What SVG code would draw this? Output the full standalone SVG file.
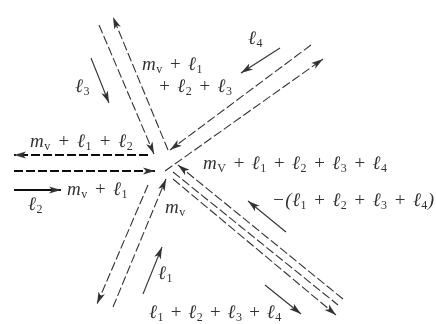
<svg xmlns="http://www.w3.org/2000/svg" width="436" height="324" viewBox="0 0 436 324">
<style>
.c{fill:none;stroke:#333;stroke-width:1.1}
.d{stroke-dasharray:9 3}
.h{stroke:#111;stroke-width:2}
.t{font-family:"Liberation Serif","DejaVu Serif",serif;font-style:italic;font-size:19px;fill:#333;letter-spacing:.5px}
.s{font-size:12px;font-style:normal}
</style>
<defs>
<marker id="a" markerUnits="userSpaceOnUse" markerWidth="14" markerHeight="10" refX="12" refY="5" orient="auto"><path d="M0 1.5L12 5L0 8.5L3 5Z" fill="#333"/></marker>
<filter id="b" x="-5%" y="-5%" width="110%" height="110%"><feGaussianBlur stdDeviation="0.7"/></filter>
</defs>
<rect width="436" height="324" fill="#fff"/>
<g filter="url(#b)">
<g id="connectors">
<path class="c d" d="M99 25L154 154" marker-end="url(#a)"/>
<path class="c d" d="M168 150L113 17" marker-end="url(#a)"/>
<path class="c" d="M91 58L109 103" marker-end="url(#a)"/>
<path class="c d h" d="M148 155L14 155" marker-end="url(#a)"/>
<path class="c d h" d="M14 171L155 171" marker-end="url(#a)"/>
<path class="c h" d="M14 190L61 190" marker-end="url(#a)"/>
<path class="c d" d="M148 185L97 304" marker-end="url(#a)"/>
<path class="c d" d="M113 307L166 179" marker-end="url(#a)"/>
<path class="c" d="M143 294L162 247" marker-end="url(#a)"/>
<path class="c d" d="M311 45L170 150" marker-end="url(#a)"/>
<path class="c d" d="M165 171L323 59" marker-end="url(#a)"/>
<path class="c" d="M280 48L241 73" marker-end="url(#a)"/>
<path class="c d" d="M343 299L178 165" marker-end="url(#a)"/>
<path class="c d" d="M173 172L338 305"/>
<path class="c d" d="M173 179L336 315" marker-end="url(#a)"/>
<path class="c" d="M286 232L248 201" marker-end="url(#a)"/>
<path class="c" d="M265 285L301 314" marker-end="url(#a)"/>
</g>
<g id="label-top-left"><text class="t" x="30" y="147">m<tspan class="s" dy="3">v</tspan><tspan dx="6.5" dy="-3">+</tspan><tspan dx="6.5">ℓ</tspan><tspan class="s" dy="3">1</tspan><tspan dx="6.5" dy="-3">+</tspan><tspan dx="6.5">ℓ</tspan><tspan class="s" dy="3">2</tspan></text></g>
<g id="label-left"><text class="t" x="67" y="195">m<tspan class="s" dy="3">v</tspan><tspan dx="6" dy="-3">+</tspan><tspan dx="6">ℓ</tspan><tspan class="s" dy="3">1</tspan></text></g>
<g id="label-l2"><text class="t" x="28" y="210">ℓ<tspan class="s" dy="3">2</tspan></text></g>
<g id="label-l3"><text class="t" x="75" y="92">ℓ<tspan class="s" dy="3">3</tspan></text></g>
<g id="label-l4"><text class="t" x="248" y="44">ℓ<tspan class="s" dy="3">4</tspan></text></g>
<g id="label-top-a"><text class="t" x="142" y="70">m<tspan class="s" dy="3">v</tspan><tspan dx="6" dy="-3">+</tspan><tspan dx="6">ℓ</tspan><tspan class="s" dy="3">1</tspan></text></g>
<g id="label-top-b"><text class="t" x="158" y="92">+<tspan dx="6">ℓ</tspan><tspan class="s" dy="3">2</tspan><tspan dx="6" dy="-3">+</tspan><tspan dx="6">ℓ</tspan><tspan class="s" dy="3">3</tspan></text></g>
<g id="label-right"><text class="t" x="203" y="169">m<tspan class="s" dy="3">V</tspan><tspan dx="6" dy="-3">+</tspan><tspan dx="6">ℓ</tspan><tspan class="s" dy="3">1</tspan><tspan dx="6" dy="-3">+</tspan><tspan dx="6">ℓ</tspan><tspan class="s" dy="3">2</tspan><tspan dx="6" dy="-3">+</tspan><tspan dx="6">ℓ</tspan><tspan class="s" dy="3">3</tspan><tspan dx="6" dy="-3">+</tspan><tspan dx="6">ℓ</tspan><tspan class="s" dy="3">4</tspan></text></g>
<g id="label-neg"><text class="t" x="272" y="206">−(ℓ<tspan class="s" dy="3">1</tspan><tspan dx="6" dy="-3">+</tspan><tspan dx="6">ℓ</tspan><tspan class="s" dy="3">2</tspan><tspan dx="6" dy="-3">+</tspan><tspan dx="6">ℓ</tspan><tspan class="s" dy="3">3</tspan><tspan dx="6" dy="-3">+</tspan><tspan dx="6">ℓ</tspan><tspan class="s" dy="3">4</tspan><tspan dy="-3">)</tspan></text></g>
<g id="label-mv"><text class="t" x="165" y="213">m<tspan class="s" dy="3">v</tspan></text></g>
<g id="label-l1"><text class="t" x="158" y="279">ℓ<tspan class="s" dy="3">1</tspan></text></g>
<g id="label-bottom"><text class="t" x="149" y="318">ℓ<tspan class="s" dy="3">1</tspan><tspan dx="5.5" dy="-3">+</tspan><tspan dx="5.5">ℓ</tspan><tspan class="s" dy="3">2</tspan><tspan dx="5.5" dy="-3">+</tspan><tspan dx="5.5">ℓ</tspan><tspan class="s" dy="3">3</tspan><tspan dx="5.5" dy="-3">+</tspan><tspan dx="5.5">ℓ</tspan><tspan class="s" dy="3">4</tspan></text></g>
</g>
</svg>
